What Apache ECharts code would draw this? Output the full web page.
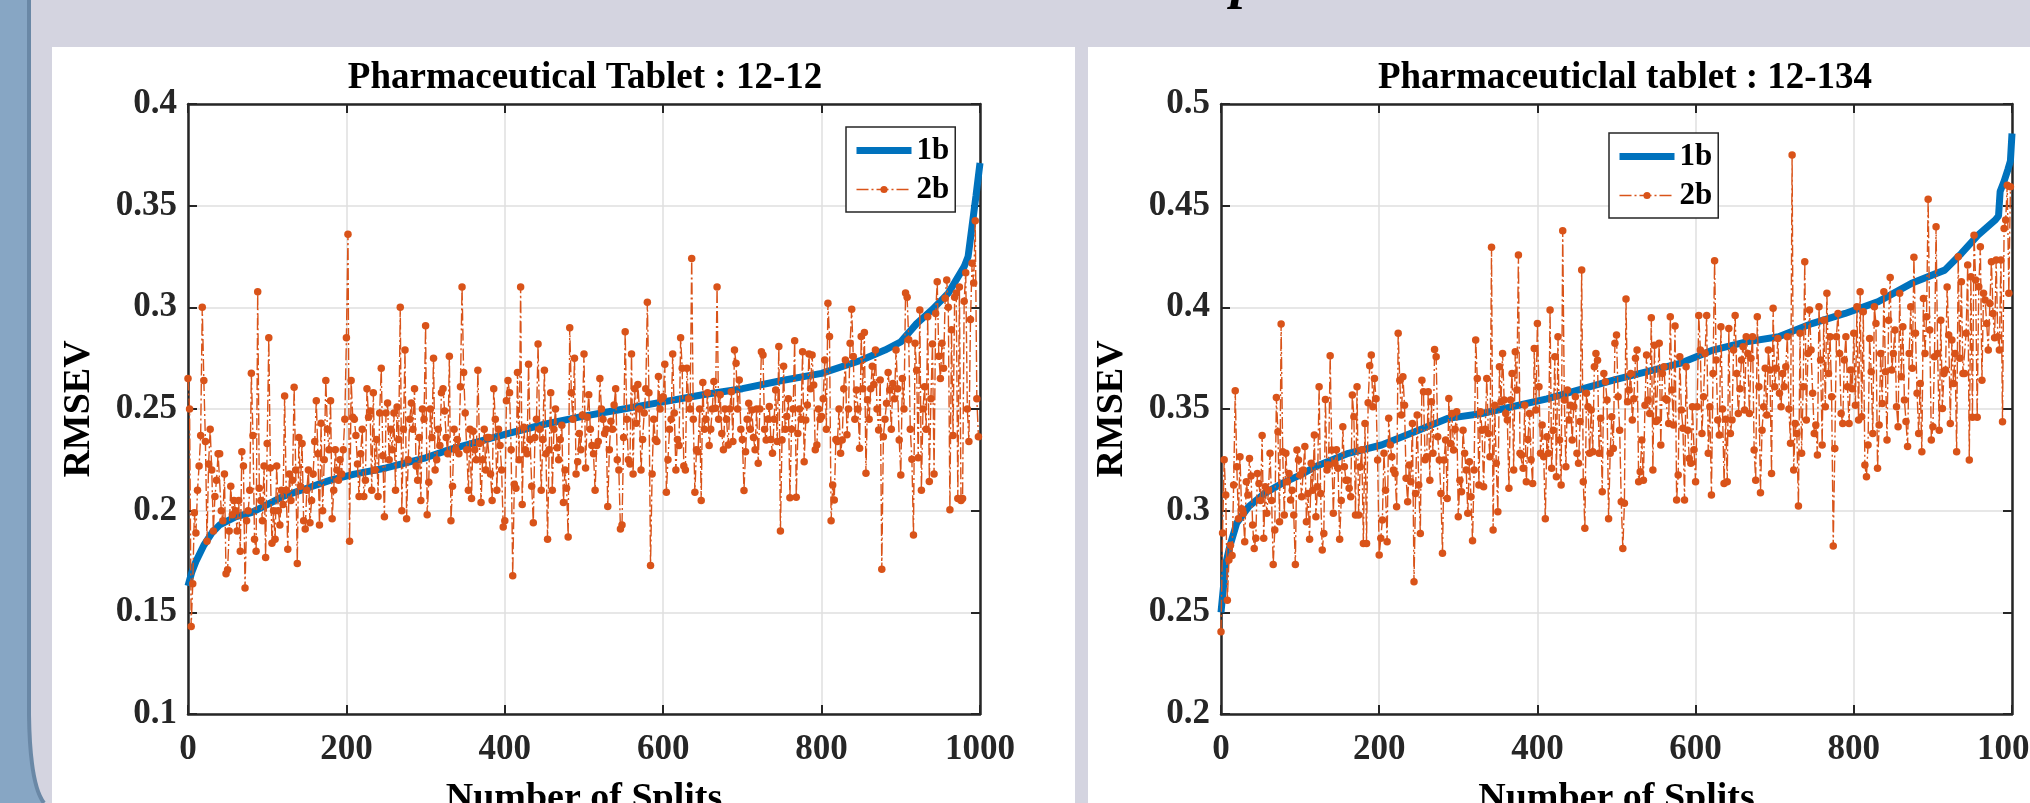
<!DOCTYPE html>
<html><head><meta charset="utf-8">
<script src="https://cdn.jsdelivr.net/npm/echarts@6/dist/echarts.min.js"></script>
<style>
html,body{margin:0;padding:0;overflow:hidden;background:#D4D4E0}
#bg{position:absolute;left:0;top:0}
#c{position:absolute;left:0;top:0;width:2030px;height:803px}
</style>
</head><body>
<svg id="bg" width="2030" height="803">
<rect width="2030" height="803" fill="#D4D4E0"/>
<path d="M0 0 H29 V715 Q30 785 44 803 H0 Z" fill="#87A6C4"/>
<path d="M29 0 V715 Q30 785 44 803" stroke="#6A88A6" stroke-width="4" fill="none"/>
<rect x="52" y="47" width="1023" height="756" fill="#ffffff"/>
<rect x="1088" y="47" width="942" height="756" fill="#ffffff"/>
<text x="1245" y="-3" font-family="Liberation Serif" font-style="italic" font-weight="bold" font-size="56" text-anchor="middle">p</text>
</svg>
<div id="c"></div>
<script>
// ---------- data ----------
const titles = ['Pharmaceutical Tablet : 12-12', 'Pharmaceuticlal tablet : 12-134'];
const seriesNames = ['1b', '2b'];
const xTickMax = 1000, xTickStep = 200;
const yRangeLeft = [0.1, 0.4];
const yRangeRight = [0.2, 0.5];
const yTickStep = 0.05;

// split index (x) of the sampled 1b curve, left chart
const left1bX = [0, 5, 10, 20, 30, 40, 60, 80, 100, 120, 150, 180, 210, 250, 300, 330, 400, 450, 500, 550, 600, 650, 700, 750, 800, 850, 880, 900, 920, 940, 960, 980, 985, 990, 995, 1000];
const left1bY = [0.163, 0.17, 0.175, 0.183, 0.189, 0.193, 0.197, 0.199, 0.203, 0.207, 0.211, 0.215, 0.218, 0.221, 0.226, 0.23, 0.2375, 0.2425, 0.2465, 0.25, 0.2535, 0.257, 0.26, 0.264, 0.2675, 0.274, 0.279, 0.283, 0.292, 0.299, 0.307, 0.32, 0.325, 0.34, 0.355, 0.371];

// 2b values, left chart, every 2nd split (0,2,...,998)
const left2b = [
0.265,0.25,0.143,0.164,0.199,0.189,0.21,0.222,0.237,0.30,
0.264,0.234,0.185,0.223,0.24,0.22,0.19,0.207,0.215,0.228,
0.228,0.2,0.195,0.218,0.169,0.171,0.19,0.212,0.198,0.205,
0.2,0.19,0.205,0.18,0.229,0.222,0.162,0.195,0.2,0.21,
0.2676,0.237,0.186,0.18,0.3077,0.211,0.205,0.195,0.222,0.177,
0.233,0.285,0.221,0.184,0.2,0.186,0.222,0.2,0.193,0.21,
0.203,0.2564,0.21,0.181,0.218,0.205,0.215,0.2607,0.22,0.174,
0.236,0.212,0.233,0.195,0.191,0.21,0.22,0.194,0.205,0.218,
0.234,0.254,0.228,0.193,0.243,0.2,0.225,0.264,0.24,0.23,
0.254,0.196,0.21,0.23,0.22,0.215,0.225,0.218,0.23,0.245,
0.285,0.336,0.185,0.264,0.246,0.245,0.237,0.223,0.207,0.228,
0.24,0.207,0.215,0.26,0.246,0.249,0.21,0.258,0.22,0.235,
0.207,0.248,0.27,0.227,0.197,0.248,0.253,0.225,0.24,0.23,
0.248,0.21,0.251,0.235,0.3,0.2,0.24,0.279,0.196,0.225,
0.245,0.253,0.24,0.26,0.222,0.215,0.236,0.205,0.25,0.245,
0.291,0.198,0.214,0.25,0.236,0.275,0.22,0.225,0.24,0.232,
0.258,0.26,0.249,0.236,0.228,0.276,0.195,0.212,0.24,0.23,
0.235,0.228,0.261,0.31,0.268,0.248,0.23,0.21,0.24,0.206,
0.239,0.23,0.225,0.269,0.233,0.204,0.225,0.24,0.22,0.236,
0.236,0.218,0.205,0.26,0.245,0.21,0.24,0.232,0.22,0.192,
0.195,0.254,0.264,0.258,0.23,0.168,0.213,0.211,0.268,0.225,
0.31,0.203,0.241,0.23,0.228,0.272,0.235,0.212,0.194,0.236,
0.245,0.282,0.24,0.21,0.235,0.269,0.228,0.186,0.23,0.258,
0.21,0.24,0.25,0.231,0.225,0.235,0.242,0.204,0.22,0.211,
0.187,0.29,0.258,0.245,0.275,0.218,0.224,0.238,0.23,0.247,
0.277,0.221,0.246,0.257,0.24,0.232,0.228,0.21,0.232,0.234,
0.265,0.25,0.245,0.238,0.24,0.202,0.23,0.244,0.24,0.252,
0.26,0.225,0.22,0.191,0.193,0.236,0.288,0.245,0.225,0.223,
0.277,0.218,0.26,0.243,0.262,0.25,0.22,0.235,0.248,0.26,
0.3025,0.258,0.173,0.218,0.245,0.235,0.234,0.266,0.25,0.255,
0.256,0.272,0.209,0.225,0.24,0.245,0.277,0.248,0.22,0.235,
0.232,0.285,0.27,0.222,0.22,0.27,0.255,0.25,0.324,0.245,
0.209,0.23,0.229,0.25,0.205,0.263,0.24,0.245,0.258,0.232,
0.24,0.25,0.2635,0.2504,0.31,0.245,0.257,0.238,0.2299,0.25,
0.245,0.2323,0.25,0.2585,0.234,0.279,0.2725,0.25,0.2643,0.24,
0.235,0.2099,0.229,0.245,0.2528,0.24,0.2495,0.236,0.2299,0.25,
0.2233,0.25,0.2782,0.2766,0.24,0.2348,0.245,0.2512,0.235,0.2282,
0.245,0.2594,0.234,0.2807,0.19,0.2348,0.271,0.24,0.2463,0.255,
0.2064,0.24,0.25,0.2836,0.2066,0.238,0.25,0.245,0.2782,0.2241,
0.2446,0.252,0.277,0.26,0.2766,0.2618,0.2299,0.2323,0.25,0.245,
0.2463,0.255,0.2741,0.24,0.302,0.2856,0.195,0.2126,0.2053,0.235,
0.234,0.25,0.2282,0.2348,0.26,0.2741,0.2373,0.25,0.2823,0.299,
0.2758,0.245,0.2594,0.25,0.2307,0.2856,0.26,0.2876,0.2184,0.2545,
0.245,0.26,0.271,0.262,0.279,0.25,0.2397,0.2643,0.1712,0.2364,
0.245,0.2528,0.268,0.2594,0.24,0.2626,0.255,0.279,0.26,0.2348,
0.2176,0.265,0.25,0.307,0.305,0.284,0.24,0.2253,0.188,0.2823,
0.269,0.226,0.2987,0.21,0.25,0.261,0.24,0.2954,0.2143,0.255,
0.282,0.218,0.297,0.3126,0.276,0.265,0.2823,0.27,0.3045,0.3135,
0.3,0.2004,0.289,0.237,0.305,0.307,0.206,0.31,0.205,0.206,
0.303,0.317,0.25,0.234,0.294,0.3217,0.312,0.3426,0.255,0.2364
];

// split index (x) of the sampled 1b curve, right chart
const right1bX = [0, 3, 6, 11, 20, 35, 55, 77, 100, 119, 161, 203, 245, 287, 330, 412, 496, 580, 622, 664, 705, 747, 789, 831, 873, 915, 936, 957, 979, 983, 985, 990, 995, 998, 1000];
const right1bY = [0.25, 0.262, 0.274, 0.2822, 0.294, 0.302, 0.3085, 0.3134, 0.3175, 0.3216, 0.3282, 0.3323, 0.3388, 0.3454, 0.3478, 0.355, 0.3642, 0.3724, 0.379, 0.383, 0.3855, 0.392, 0.397, 0.4028, 0.4118, 0.4183, 0.4265, 0.4355, 0.443, 0.445, 0.457, 0.462, 0.468, 0.472, 0.4855];

// 2b values, right chart, every 2nd split (0,2,...,998)
const right2b = [
0.2405,0.289,0.325,0.3077,0.256,0.2757,0.283,0.278,0.3126,0.359,
0.3216,0.296,0.3265,0.301,0.2987,0.2847,0.3142,0.3077,0.3257,0.317,
0.293,0.2814,0.2864,0.3183,0.3134,0.305,0.337,0.2864,0.3118,0.2987,
0.31,0.3282,0.305,0.2735,0.2905,0.3557,0.3388,0.2946,0.3918,0.329,
0.2979,0.3282,0.3142,0.3183,0.3052,0.31,0.2979,0.2735,0.3298,0.3249,
0.3175,0.3069,0.32,0.3315,0.2946,0.3085,0.2859,0.3233,0.31,0.3372,
0.297,0.3118,0.361,0.3085,0.2806,0.2888,0.3547,0.32,0.3224,0.3762,
0.3298,0.2987,0.3233,0.33,0.3208,0.2859,0.305,0.3413,0.3216,0.315,
0.315,0.311,0.3069,0.3569,0.3462,0.2979,0.361,0.2979,0.3216,0.33,
0.2839,0.3429,0.2839,0.3531,0.3713,0.3765,0.3511,0.365,0.355,0.3249,
0.2782,0.2864,0.2954,0.3282,0.31,0.2847,0.3454,0.3323,0.3265,0.32,
0.3183,0.3019,0.3872,0.3642,0.347,0.3659,0.3519,0.3159,0.3044,0.3224,
0.3142,0.3429,0.265,0.3085,0.347,0.3126,0.2888,0.3642,0.3585,0.325,
0.3265,0.3585,0.315,0.3536,0.3282,0.3793,0.3757,0.3364,0.3249,0.3085,
0.279,0.3249,0.3347,0.306,0.3552,0.333,0.3478,0.3298,0.34,0.3487,
0.297,0.315,0.3093,0.3396,0.3282,0.32,0.2987,0.3241,0.3069,0.2852,
0.32,0.3839,0.365,0.3126,0.3487,0.3396,0.3118,0.34,0.365,0.338,
0.3265,0.4295,0.2905,0.3519,0.3233,0.2995,0.3708,0.3536,0.3773,0.3544,
0.3478,0.3446,0.311,0.3544,0.3675,0.32,0.3782,0.3593,0.4257,0.3282,
0.3274,0.3208,0.3519,0.3142,0.335,0.3478,0.325,0.3134,0.3798,0.3495,
0.3921,0.361,0.3282,0.3421,0.3265,0.296,0.3364,0.3282,0.3987,0.3208,
0.3396,0.3757,0.3167,0.3855,0.3347,0.3126,0.4377,0.3544,0.3216,0.3593,
0.3446,0.3519,0.3347,0.3511,0.356,0.3282,0.3233,0.3438,0.4183,0.3142,
0.2913,0.3577,0.3511,0.3282,0.3495,0.329,0.3708,0.3773,0.374,0.3282,
0.3454,0.3093,0.3675,0.3634,0.3544,0.296,0.3282,0.3462,0.3306,0.3823,
0.3864,0.356,0.3396,0.3044,0.2814,0.3036,0.4041,0.3536,0.3593,0.3675,
0.3446,0.355,0.3749,0.379,0.3142,0.3192,0.3347,0.315,0.3519,0.3765,
0.3544,0.3478,0.3949,0.32,0.3814,0.3438,0.3446,0.3823,0.3323,0.3675,
0.3708,0.355,0.3544,0.3429,0.3954,0.3593,0.3421,0.3908,0.3052,0.3175,
0.3757,0.3495,0.3405,0.3052,0.3708,0.3396,0.3257,0.3233,0.3511,0.33,
0.3142,0.3511,0.396,0.379,0.338,0.356,0.3773,0.396,0.3282,0.3511,
0.3077,0.3675,0.4229,0.3741,0.3446,0.3372,0.3905,0.35,0.3134,0.345,
0.3142,0.3896,0.338,0.3446,0.379,0.396,0.3675,0.3478,0.36,0.3741,
0.3806,0.3495,0.3855,0.3773,0.3478,0.3749,0.3855,0.3298,0.315,0.3954,
0.361,0.3088,0.3396,0.3511,0.37,0.347,0.379,0.3692,0.3183,0.3995,
0.361,0.37,0.3847,0.3577,0.3511,0.3675,0.361,0.3708,0.3855,0.35,
0.3331,0.4749,0.32,0.3429,0.338,0.3023,0.3872,0.3282,0.361,0.4224,
0.3446,0.3773,0.3987,0.379,0.3577,0.338,0.3421,0.3274,0.4003,0.3741,
0.3323,0.3937,0.3511,0.4069,0.3675,0.3855,0.356,0.2826,0.3306,0.3855,
0.397,0.3773,0.3478,0.3429,0.3741,0.3855,0.361,0.3429,0.3692,0.36,
0.3872,0.3519,0.4003,0.3446,0.4077,0.3462,0.3978,0.3224,0.3167,0.3323,
0.3847,0.3683,0.338,0.4003,0.3921,0.3208,0.3421,0.3773,0.3527,0.4077,
0.3683,0.3347,0.3937,0.4147,0.3692,0.3773,0.3888,0.3511,0.3413,0.4069,
0.3659,0.3905,0.3544,0.3438,0.3315,0.3773,0.4003,0.37,0.4246,0.3872,
0.3577,0.338,0.3626,0.329,0.4044,0.3773,0.3954,0.4532,0.3888,0.3347,
0.3413,0.3757,0.4396,0.3773,0.3396,0.3937,0.3503,0.3675,0.3692,0.41,
0.3864,0.3429,0.3839,0.3626,0.3773,0.329,0.4249,0.3749,0.4126,0.3675,
0.3675,0.3872,0.4208,0.3249,0.415,0.346,0.4355,0.4134,0.346,0.4101,
0.4298,0.3642,0.4069,0.4036,0.3921,0.379,0.4019,0.4224,0.397,0.385,
0.4233,0.3855,0.379,0.4233,0.3437,0.4388,0.4429,0.4601,0.4069,0.4593
];
const sampleStep = 2; // 2b sampled at every 2nd split

// ---------- chart ----------
const FONT = '"Liberation Serif", "Times New Roman", serif';
const AX = '#262626';
const BLUE = '#0072BD', ORANGE = '#D95319';
const grids = [
  {left: 188, top: 104, width: 792, height: 610},
  {left: 1221, top: 104, width: 791, height: 610}
];
const yRanges = [yRangeLeft, yRangeRight];
const ones = [[left1bX, left1bY], [right1bX, right1bY]];
const twos = [left2b, right2b];
const titleCenters = [580, 1620];
const legendPos = [[846, 127], [1609, 133]];

const option = {
  animation: false,
  title: [], grid: [], xAxis: [], yAxis: [], series: [], legend: []
};
const tick = () => ({show: true, inside: true, length: 9, lineStyle: {color: AX, width: 2}});
const line = () => ({show: true, onZero: false, lineStyle: {color: AX, width: 2.5}});
const lab = (m, pad) => ({margin: m, padding: pad, fontFamily: FONT, fontWeight: 'bold', fontSize: 35, color: AX, formatter: (v) => String(v)});
for (let g = 0; g < 2; g++) {
  option.grid.push(Object.assign({show: false, outerBoundsMode: 'none', containLabel: false}, grids[g]));
  option.title.push({
    text: titles[g], left: titleCenters[g], top: 55, textAlign: 'center',
    textStyle: {fontFamily: FONT, fontWeight: 'bold', fontSize: 37, color: '#000'}
  });
  option.xAxis.push({
    gridIndex: g, type: 'value', min: 0, max: xTickMax, interval: xTickStep, position: 'bottom',
    name: 'Number of Splits', nameLocation: 'middle', nameGap: 66,
    nameTextStyle: {fontFamily: FONT, fontWeight: 'bold', fontSize: 38, color: '#000'},
    axisLine: line(), axisTick: tick(), axisLabel: lab(18, 0),
    splitLine: {show: true, lineStyle: {color: '#DFDFDF', width: 1.5}}
  });
  option.xAxis.push({
    gridIndex: g, type: 'value', min: 0, max: xTickMax, interval: xTickStep, position: 'top',
    axisLine: line(), axisTick: tick(), axisLabel: {show: false}, splitLine: {show: false}
  });
  option.yAxis.push({
    gridIndex: g, type: 'value', min: yRanges[g][0], max: yRanges[g][1], interval: yTickStep, position: 'left',
    name: 'RMSEV', nameLocation: 'middle', nameRotate: 90, nameGap: 90,
    nameTextStyle: {fontFamily: FONT, fontWeight: 'bold', fontSize: 38, color: '#000'},
    axisLine: line(), axisTick: tick(), axisLabel: lab(11, [8, 0, 0, 0]),
    splitLine: {show: true, lineStyle: {color: '#DFDFDF', width: 1.5}}
  });
  option.yAxis.push({
    gridIndex: g, type: 'value', min: yRanges[g][0], max: yRanges[g][1], interval: yTickStep, position: 'right',
    axisLine: line(), axisTick: tick(), axisLabel: {show: false}, splitLine: {show: false}
  });
  const [bx, by] = ones[g];
  option.series.push({
    type: 'line', name: seriesNames[0], xAxisIndex: 2 * g, yAxisIndex: 2 * g,
    data: bx.map((x, i) => [x, by[i]]), symbol: 'none', z: 2,
    lineStyle: {color: BLUE, width: 7}, itemStyle: {color: BLUE}
  });
  option.series.push({
    type: 'line', name: seriesNames[1], xAxisIndex: 2 * g, yAxisIndex: 2 * g,
    data: twos[g].map((v, i) => [i * sampleStep, v]), symbol: 'circle', symbolSize: 7.5, showSymbol: true, z: 3,
    lineStyle: {color: ORANGE, width: 1.4, type: [12, 3, 2, 3]}, itemStyle: {color: ORANGE}
  });
  option.legend.push({
    left: legendPos[g][0], top: legendPos[g][1], orient: 'vertical', selectedMode: false,
    data: [{name: seriesNames[0], lineStyle: {width: 7}, itemStyle: {opacity: 0}}, {name: seriesNames[1], lineStyle: {width: 1.3}}],
    itemWidth: 55, itemHeight: 9, itemGap: 8, padding: [8, 6, 7, 7],
    backgroundColor: '#fff', borderColor: AX, borderWidth: 1.5,
    textStyle: {fontFamily: FONT, fontWeight: 'bold', fontSize: 31, color: '#000'}
  });
}
const chart = echarts.init(document.getElementById('c'), null, {renderer: 'canvas'});
chart.setOption(option);
</script>
</body></html>
